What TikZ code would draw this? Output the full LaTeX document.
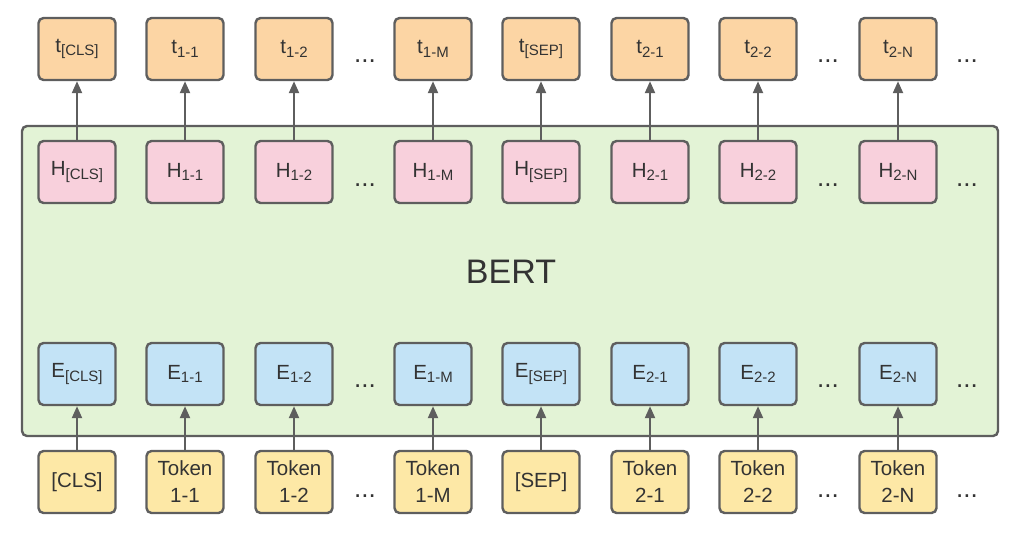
\documentclass[tikz,border=0pt]{standalone}
\usepackage{fontspec}
\setmainfont{Liberation Sans}
\usetikzlibrary{arrows.meta}
\definecolor{edgegray}{HTML}{5E5E5E}
\definecolor{torange}{HTML}{FCD5A4}
\definecolor{hpink}{HTML}{F8D0DC}
\definecolor{eblue}{HTML}{C3E3F6}
\definecolor{tokyellow}{HTML}{FDE8A6}
\definecolor{bertgreen}{HTML}{E3F3D6}
\definecolor{txt}{HTML}{333333}
\newcommand\lsub[1]{\raisebox{-0.35ex}{\fontsize{15}{15}\selectfont #1}}
\tikzset{
  cell/.style={draw=edgegray, line width=2.4pt, rounded corners=5pt, minimum width=77pt, minimum height=62pt, inner sep=0pt, align=center, font=\fontsize{20.5}{27}\selectfont, text=txt},
  tbox/.style={cell, fill=torange},
  hbox/.style={cell, fill=hpink},
  ebox/.style={cell, fill=eblue},
  kbox/.style={cell, fill=tokyellow},
  dotsnode/.style={font=\fontsize{26}{26}\selectfont, text=txt, inner sep=0pt},
  conn/.style={draw=edgegray, line width=2.2pt, -{Triangle[length=12pt,width=10pt]}},
}
\begin{document}
\begin{tikzpicture}[x=1pt,y=-1pt]
\useasboundingbox (0,0) rectangle (1024,533);
\node[draw=edgegray, line width=2.4pt, rounded corners=5pt, fill=bertgreen, minimum width=976pt, minimum height=310pt, inner sep=0pt] (bert) at (510,281) {};
\node[font=\fontsize{34}{34}\selectfont, text=txt] (berttext) at (511,272) {BERT};
% columns
\foreach \i/\x/\lab/\tok in {1/77/[CLS]/[CLS], 2/185/1-1/Token\\1-1, 3/294/1-2/Token\\1-2, 4/433/1-M/Token\\1-M, 5/541/[SEP]/[SEP], 6/650/2-1/Token\\2-1, 7/758/2-2/Token\\2-2, 8/898/2-N/Token\\2-N}{
  \node[tbox] (t\i) at (\x,49) {t\lsub{\lab}};
  \node[hbox] (h\i) at (\x,172) {H\lsub{\lab}};
  \node[ebox] (e\i) at (\x,374) {E\lsub{\lab}};
  \node[kbox] (k\i) at (\x,482) {\tok};
  \draw[conn] (h\i.north) -- (t\i.south);
  \draw[conn] (k\i.north) -- (e\i.south);
}
\foreach \j/\x in {a/365, b/828, c/967}{
  \node[dotsnode] (dt\j) at (\x,61) {...};
  \node[dotsnode] (dh\j) at (\x,185) {...};
  \node[dotsnode] (de\j) at (\x,386) {...};
  \node[dotsnode] (dk\j) at (\x,496) {...};
}
\end{tikzpicture}
\end{document}
